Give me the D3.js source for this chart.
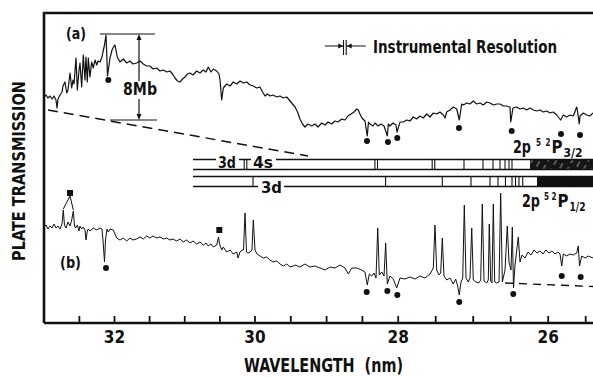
<!DOCTYPE html>
<html><head><meta charset="utf-8">
<script src="https://cdn.jsdelivr.net/npm/d3@7"></script>
<style>
html,body{margin:0;padding:0;background:#fff;}
svg{display:block;}
text{font-family:"Liberation Sans Narrow","DejaVu Sans Condensed","Roboto Condensed","Liberation Sans",sans-serif;fill:#111;font-weight:bold;}
</style></head><body>
<svg id="chart" width="593" height="377"></svg>
<script>
// ---------- DATA (wavelength in nm, plate transmission in arbitrary units) ----------
const spectrumA = [
[32.996,226],[32.968,228],[32.940,225],[32.911,227],[32.883,224],[32.854,227],[32.826,223],[32.811,215],[32.797,224],[32.769,228],
[32.740,231],[32.726,237],[32.698,241],[32.673,230],[32.655,233],[32.626,250],[32.602,235],[32.584,243],[32.569,239],[32.541,265],
[32.522,233],[32.498,253],[32.484,260],[32.460,236],[32.437,268],[32.413,243],[32.399,266],[32.380,241],[32.366,265],[32.342,246],
[32.318,261],[32.295,255],[32.270,263],[32.246,258],[32.228,262],[32.199,261],[32.171,266],[32.157,271],[32.135,278],[32.114,288],
[32.100,263],[32.093,247],[32.057,265],[32.028,273],[32.007,276],[31.986,278],[31.953,266],[31.915,261],[31.868,264],[31.819,260],
[31.772,262],[31.730,259],[31.677,260],[31.630,262],[31.583,259],[31.535,257],[31.488,257],[31.445,254],[31.392,255],[31.345,252],
[31.298,253],[31.250,251],[31.203,252],[31.167,249],[31.132,245],[31.096,242],[31.060,241],[31.025,244],[30.989,246],[30.954,249],
[30.918,250],[30.875,248],[30.823,252],[30.776,250],[30.729,253],[30.690,251],[30.658,256],[30.619,251],[30.586,254],[30.538,252],
[30.505,249],[30.491,243],[30.467,223],[30.444,235],[30.396,239],[30.349,237],[30.302,241],[30.253,239],[30.206,242],[30.159,240],
[30.111,241],[30.064,238],[30.017,237],[29.969,235],[29.923,236],[29.888,231],[29.853,227],[29.818,229],[29.784,227],[29.742,228],
[29.690,226],[29.644,227],[29.598,225],[29.550,226],[29.504,222],[29.469,219],[29.434,216],[29.399,211],[29.365,204],[29.330,199],
[29.295,196],[29.253,199],[29.201,197],[29.155,199],[29.113,196],[29.061,200],[29.015,198],[28.973,201],[28.922,199],[28.876,202],
[28.834,201],[28.782,204],[28.736,203],[28.694,207],[28.652,209],[28.610,211],[28.573,214],[28.550,213],[28.527,209],[28.499,205],
[28.457,202],[28.425,187],[28.408,201],[28.387,199],[28.345,197],[28.317,200],[28.275,197],[28.233,199],[28.191,197],[28.145,187],
[28.131,199],[28.108,197],[28.066,200],[28.024,198],[28.010,191],[27.969,201],[27.925,201],[27.880,203],[27.836,202],[27.792,206],
[27.747,204],[27.703,207],[27.659,205],[27.613,209],[27.569,206],[27.525,210],[27.480,209],[27.436,211],[27.392,208],[27.369,205],
[27.347,211],[27.303,213],[27.259,216],[27.213,214],[27.179,203],[27.147,219],[27.125,218],[27.080,220],[27.036,219],[26.992,222],
[26.947,219],[26.903,220],[26.859,218],[26.813,221],[26.769,220],[26.725,218],[26.680,219],[26.636,219],[26.592,217],[26.547,217],
[26.503,216],[26.493,201],[26.463,215],[26.413,216],[26.369,214],[26.325,215],[26.280,213],[26.236,215],[26.192,213],[26.147,212],
[26.103,213],[26.059,211],[26.013,212],[25.969,210],[25.925,211],[25.880,208],[25.859,206],[25.827,203],[25.792,208],[25.747,206],
[25.703,208],[25.659,207],[25.613,216],[25.605,213],[25.579,199],[25.569,207],[25.525,210],[25.480,208],[25.436,207],[25.396,210]
];
const spectrumB = [
[32.996,96],[32.968,98],[32.940,94],[32.911,97],[32.883,95],[32.854,99],[32.826,95],[32.797,97],[32.769,94],[32.740,99],
[32.722,113],[32.705,98],[32.683,95],[32.655,101],[32.626,97],[32.602,103],[32.579,112],[32.562,97],[32.548,95],[32.522,98],
[32.498,92],[32.484,97],[32.460,94],[32.437,96],[32.413,93],[32.399,83],[32.380,92],[32.366,94],[32.342,92],[32.295,95],
[32.246,93],[32.199,95],[32.171,94],[32.157,83],[32.135,61],[32.121,83],[32.100,94],[32.081,91],[32.057,94],[32.010,93],
[31.962,85],[31.915,83],[31.868,85],[31.819,82],[31.772,85],[31.730,83],[31.677,84],[31.630,86],[31.583,84],[31.535,87],
[31.488,85],[31.445,87],[31.392,85],[31.345,86],[31.298,84],[31.250,85],[31.203,83],[31.160,84],[31.107,82],[31.060,84],
[31.014,81],[30.965,83],[30.918,80],[30.875,82],[30.823,79],[30.776,81],[30.729,78],[30.690,80],[30.658,77],[30.619,79],
[30.586,76],[30.538,78],[30.512,86],[30.498,79],[30.467,73],[30.444,76],[30.396,71],[30.349,73],[30.302,69],[30.253,71],
[30.235,65],[30.206,71],[30.178,73],[30.157,73],[30.135,110],[30.114,71],[30.093,70],[30.064,71],[30.036,73],[30.017,103],
[29.993,73],[29.965,69],[29.923,67],[29.877,65],[29.830,66],[29.784,63],[29.742,61],[29.690,62],[29.644,59],[29.598,57],
[29.550,59],[29.504,56],[29.458,57],[29.434,58],[29.365,56],[29.295,59],[29.225,56],[29.155,57],[29.085,55],[29.015,53],
[28.945,56],[28.876,55],[28.806,58],[28.736,55],[28.690,49],[28.642,55],[28.573,55],[28.503,53],[28.457,51],[28.425,38],
[28.397,49],[28.363,47],[28.331,50],[28.303,45],[28.279,95],[28.257,48],[28.223,51],[28.191,47],[28.168,80],[28.145,39],
[28.108,47],[28.061,44],[28.014,35],[27.969,45],[27.903,44],[27.836,46],[27.769,44],[27.703,47],[27.636,45],[27.569,49],
[27.525,55],[27.503,98],[27.480,53],[27.449,48],[27.427,50],[27.405,85],[27.383,47],[27.347,43],[27.303,45],[27.259,39],
[27.227,44],[27.200,37],[27.179,28],[27.156,41],[27.133,45],[27.112,118],[27.089,45],[27.059,41],[27.036,45],[27.013,95],
[26.992,43],[26.956,41],[26.920,40],[26.893,43],[26.872,119],[26.849,42],[26.813,40],[26.792,43],[26.779,99],[26.760,42],
[26.743,40],[26.725,119],[26.707,41],[26.680,40],[26.649,41],[26.627,130],[26.605,41],[26.569,53],[26.539,97],[26.516,61],
[26.489,53],[26.472,96],[26.456,35],[26.436,58],[26.392,86],[26.369,61],[26.343,68],[26.303,65],[26.263,71],[26.223,68],
[26.183,73],[26.143,70],[26.103,72],[26.063,69],[26.023,73],[25.983,70],[25.943,72],[25.903,69],[25.863,71],[25.836,69],
[25.813,57],[25.792,69],[25.747,67],[25.703,69],[25.659,68],[25.613,70],[25.592,77],[25.576,57],[25.547,67],[25.503,65],
[25.459,67],[25.396,65]
];
const baselineA = [[32.94,213],[29.253,167]];
const baselineB = [[26.569,40],[25.396,36.5]];
const dotsA = [[32.081,243],[28.429,182],[28.136,181],[28.006,185],[27.183,195],[26.480,192],[25.823,189],[25.569,188]];
const dotsB = [[32.114,55],[28.433,31],[28.145,32],[28.005,28],[27.179,21],[26.459,29],[25.813,47],[25.560,46]];
const squaresB = [[32.626,130],[30.501,93]];
const squareLinks = [[32.722,113],[32.579,112]];
const upperSeries = [30.128,28.300,27.523,27.116,26.863,26.729,26.636,26.569,26.516,26.476];
const upperDoubles = [30.128,28.300,27.523];
const upperLimit = 26.236;
const lowerSeries = [30.021,28.169,27.405,27.023,26.769,26.663,26.563,26.476,26.429,26.383,26.333];
const lowerLimit = 26.143;
const tickWaves = [32.5,32,31.5,31,30.5,30,29.5,29,28.5,28,27.5,27,26.5,26,25.5];
const tickLabels = [32,30,28,26];
const scaleBar = {wl:31.644, top:289, bottom:203};
const resolutionWl = 28.74;

// ---------- LAYOUT ----------
const W = 593, H = 377;
const frameL = 44, frameT = 13, frameB = 323;
const svg = d3.select("#chart");
const x = d3.scaleLinear().domain([32,30,28,26]).range([114,254.5,397.7,547.7]);
const y = d3.scaleLinear().domain([0,310]).range([frameB, frameT]);

function label(xp, yp, size, len, str) {
  const t = svg.append("text").attr("x",xp).attr("y",yp).attr("font-size",size).text(str);
  if (len) t.attr("textLength",len).attr("lengthAdjust","spacingAndGlyphs");
  return t;
}

// hatch pattern
const defs = svg.append("defs");
const pat = defs.append("pattern").attr("id","hatch").attr("patternUnits","userSpaceOnUse")
  .attr("width",7).attr("height",10).attr("patternTransform","rotate(30)");
pat.append("rect").attr("width",7).attr("height",10).attr("fill","#151515");
pat.append("line").attr("x1",2).attr("y1",0).attr("x2",2).attr("y2",6).attr("stroke","#bbb").attr("stroke-width",0.8);

// frame
svg.append("path")
  .attr("d",`M${frameL},${frameB}V${frameT}H${W}M${frameL},${frameB}H${W}`)
  .attr("fill","none").attr("stroke","#111").attr("stroke-width",2.6);

// axis
const axis = d3.axisBottom(x).tickValues(tickWaves).tickSizeInner(-7).tickSizeOuter(0).tickPadding(8)
  .tickFormat(d => tickLabels.includes(d) ? d : "");
const gx = svg.append("g").attr("transform",`translate(0,${frameB})`).call(axis);
gx.select(".domain").remove();
gx.selectAll(".tick line").attr("stroke","#111").attr("stroke-width",1.8);
gx.selectAll(".tick text").style("font-size","17px");

// axis titles
svg.append("text").attr("transform",`translate(25,171) rotate(-90)`).attr("text-anchor","middle")
  .attr("font-size",17).attr("textLength",180).attr("lengthAdjust","spacingAndGlyphs").text("PLATE TRANSMISSION");
svg.append("text").attr("x",244).attr("y",372).attr("font-size",19)
  .attr("textLength",159).attr("lengthAdjust","spacingAndGlyphs").attr("xml:space","preserve").text("WAVELENGTH  (nm)");

// spectra
const line = d3.line().x(d => x(d[0])).y(d => y(d[1]));
svg.append("path").datum(spectrumA).attr("d",line).attr("fill","none").attr("stroke","#111").attr("stroke-width",1.2).attr("stroke-linejoin","round");
svg.append("path").datum(spectrumB).attr("d",line).attr("fill","none").attr("stroke","#111").attr("stroke-width",1.0).attr("stroke-linejoin","round");
svg.append("path").datum(baselineA).attr("d",line).attr("fill","none").attr("stroke","#111").attr("stroke-width",1.5).attr("stroke-dasharray","10,6");
svg.append("path").datum(baselineB).attr("d",line).attr("fill","none").attr("stroke","#111").attr("stroke-width",1.4).attr("stroke-dasharray","8,6");

// markers
svg.selectAll(".dotA").data(dotsA).join("circle").attr("class","dotA").attr("cx",d=>x(d[0])).attr("cy",d=>y(d[1])).attr("r",3).attr("fill","#111");
svg.selectAll(".dotB").data(dotsB).join("circle").attr("class","dotB").attr("cx",d=>x(d[0])).attr("cy",d=>y(d[1])).attr("r",3).attr("fill","#111");
svg.selectAll(".sqB").data(squaresB).join("rect").attr("class","sqB").attr("x",d=>x(d[0])-3).attr("y",d=>y(d[1])-3).attr("width",6).attr("height",6).attr("fill","#111");
svg.selectAll(".sqLink").data(squareLinks).join("line").attr("class","sqLink")
  .attr("x1",x(squaresB[0][0])).attr("y1",y(squaresB[0][1])+3).attr("x2",d=>x(d[0])).attr("y2",d=>y(d[1])-1)
  .attr("stroke","#111").attr("stroke-width",1);

// level strips
const strips = [
  {top:159.5, bot:169.5, series:upperSeries, doubles:upperDoubles, limit:upperLimit, fill:"url(#hatch)"},
  {top:176.5, bot:186.5, series:lowerSeries, doubles:[], limit:lowerLimit, fill:"#111"}
];
const stripX0 = 193;
strips.forEach(s => {
  svg.append("rect").attr("x",x(s.limit)).attr("y",s.top).attr("width",W - x(s.limit)).attr("height",s.bot-s.top).attr("fill",s.fill);
  svg.append("path").attr("d",`M${stripX0},${s.top}H${W}M${stripX0},${s.bot}H${W}`).attr("stroke","#111").attr("stroke-width",1.3);
  s.series.forEach(w => {
    const xs = s.doubles.includes(w) ? [x(w)-1.3, x(w)+1.3] : [x(w)];
    xs.forEach(xx => svg.append("line").attr("x1",xx).attr("x2",xx).attr("y1",s.top).attr("y2",s.bot).attr("stroke","#111").attr("stroke-width",1.1));
  });
});
// masks + labels on strips
[[216,155,23,10],[251,155,25,10],[258,181,26,11]].forEach(r =>
  svg.append("rect").attr("x",r[0]).attr("y",r[1]).attr("width",r[2]).attr("height",r[3]).attr("fill","#fff"));
label(218,168,15,18,"3d");
label(253,168,15,20,"4s");
label(261,193,15,21,"3d");

// term labels 2p5 2P3/2 and 2p5 2P1/2
label(513,152.5,17,18,"2p");
label(536,145.5,11,5,"5");
label(545.5,145.5,11,5,"2");
label(551.5,152.5,17,11,"P");
label(563.5,156.5,12,19,"3/2");
label(522,207,17,18,"2p");
label(544,200,11,5,"5");
label(551.5,200,11,5,"2");
label(557.5,207,17,11,"P");
label(569.5,211,12,16,"1/2");

// panel labels
label(66,39,16,20,"(a)");
label(60,268,16,21,"(b)");

// 8 Mb scale bar
const sbx = x(scaleBar.wl), sbt = y(scaleBar.top), sbb = y(scaleBar.bottom);
svg.append("line").attr("x1",sbx-39).attr("x2",sbx+16).attr("y1",sbt).attr("y2",sbt).attr("stroke","#111").attr("stroke-width",1.2);
svg.append("line").attr("x1",sbx-29).attr("x2",sbx+18).attr("y1",sbb).attr("y2",sbb).attr("stroke","#111").attr("stroke-width",1.2);
svg.append("line").attr("x1",sbx).attr("x2",sbx).attr("y1",sbt+3).attr("y2",sbb-3).attr("stroke","#111").attr("stroke-width",1.2);
svg.append("path").attr("d",`M${sbx},${sbt}l-2.5,6h5zM${sbx},${sbb}l-2.5,-6h5z`).attr("fill","#111");
svg.append("rect").attr("x",sbx-17).attr("y",sbt+47).attr("width",37).attr("height",18).attr("fill","#fff");
label(sbx-16, sbt+61, 17, 34, "8Mb");

// instrumental resolution symbol
const rx = x(resolutionWl), ry = 46;
svg.append("path").attr("d",`M${rx-20},${ry}H${rx-1}M${rx+2},${ry}H${rx+21}M${rx-1.2},${ry-6}V${ry+9}M${rx+1.5},${ry-6}V${ry+9}`)
  .attr("stroke","#111").attr("stroke-width",1.1).attr("fill","none");
svg.append("path").attr("d",`M${rx-1.5},${ry}l-5,-2.5v5zM${rx+2},${ry}l5,-2.5v5z`).attr("fill","#111");
label(373,53,18,184,"Instrumental Resolution").style("font-weight","600");
</script>
</body></html>
